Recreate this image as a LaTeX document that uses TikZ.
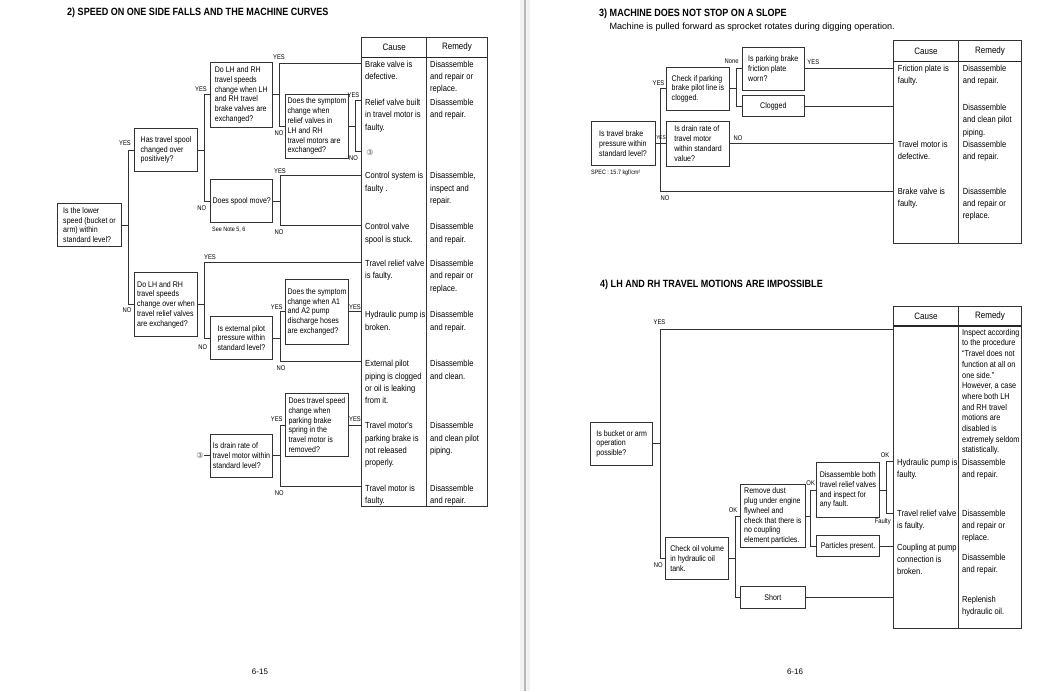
\documentclass[tikz,border=0pt]{standalone}
\usepackage{fontspec}
\setmainfont{Liberation Sans}
\newfontfamily\nfont[FakeStretch=0.86]{Liberation Sans}
\newfontfamily\symfont{DejaVu Sans}
\tikzset{
  qbox/.style={rectangle, draw=black!80, line width=0.9pt, fill=white, align=flush left,
    font=\nfont\fontsize{8.2}{9.8}\selectfont, inner sep=1pt, minimum width=62.6pt},
  cbox/.style={qbox, align=center, minimum height=21pt},
  cell/.style={anchor=base west, align=flush left, inner sep=0pt, text width=75pt,
    font=\nfont\fontsize{8.8}{12.3}\selectfont},
  longcell/.style={cell, font=\nfont\fontsize{8.5}{10.7}\selectfont},
  head/.style={font=\nfont\fontsize{9.3}{11}\selectfont, inner sep=0pt},
  lbl/.style={font=\nfont\fontsize{6.8}{7}\selectfont, inner sep=0.5pt},
  smalltxt/.style={font=\nfont\fontsize{6.3}{7}\selectfont, inner sep=0pt, anchor=west},
  circmark/.style={font=\symfont\fontsize{8}{9}\selectfont, inner sep=0.3pt, text=black!65},
  ttl/.style={anchor=west, inner sep=0pt, font=\nfont\bfseries\fontsize{10.5}{12}\selectfont},
  subttl/.style={anchor=west, inner sep=0pt, font=\fontsize{9.1}{11}\selectfont},
  pgno/.style={inner sep=0pt, font=\fontsize{8}{9}\selectfont},
  link/.style={draw=black!80, line width=0.8pt},
  tbl/.style={draw=black!80, line width=0.9pt},
  hrule/.style={draw=black!85, line width=1.5pt},
}

\begin{document}
\begin{tikzpicture}[x=1pt,y=-1pt]
\useasboundingbox (0,0) rectangle (1054,691);
\fill[white] (0,0) rectangle (1054,691);
% ---- gutter between the pages ----
\fill[black!5] (520,0) rectangle (530,691);
\draw[draw=black!28, line width=2.2pt] (525,0) -- (525,691);

% ---- titles ----
\node[ttl] (t2) at (67,13) {2) SPEED ON ONE SIDE FALLS AND THE MACHINE CURVES};
\node[ttl] (t3) at (599,13.3) {3) MACHINE DOES NOT STOP ON A SLOPE};
\node[subttl] (s3) at (609.3,26.7) {Machine is pulled forward as sprocket rotates during digging operation.};
\node[ttl] (t4) at (600,285) {4) LH AND RH TRAVEL MOTIONS ARE IMPOSSIBLE};
\node[pgno] (pg15) at (260,672) {6-15};
\node[pgno] (pg16) at (795,672) {6-16};

% ================= page 6-15 =================
% ---- cause / remedy table ----
\draw[tbl] (361.7,37.3) rectangle (487.3,506);
\draw[tbl] (426.7,37.3) -- (426.7,506);
\draw[hrule] (361.7,57.3) -- (487.3,57.3);
\node[head] (hc2) at (394.2,47) {Cause};
\node[head] (hr2) at (457,47) {Remedy};
\node[cell] (c1) at (365,67.2) {Brake valve is\\defective.};
\node[cell] (c2) at (365,105.5) {Relief valve built\\in travel motor is\\faulty.};
\node[circmark] (ma2) at (370,152.7) {③};
\node[cell] (c3) at (365,178.9) {Control system is\\faulty .};
\node[cell] (c4) at (365,229.9) {Control valve\\spool is stuck.};
\node[cell] (c5) at (365,266.5) {Travel relief valve\\is faulty.};
\node[cell] (c6) at (365,317.9) {Hydraulic pump is\\broken.};
\node[cell] (c7) at (365,366.9) {External pilot\\piping is clogged\\or oil is leaking\\from it.};
\node[cell] (c8) at (365,428.9) {Travel motor's\\parking brake is\\not released\\properly.};
\node[cell] (c9) at (365,491.2) {Travel motor is\\faulty.};
\node[cell] (m1) at (430,67.2) {Disassemble\\and repair or\\replace.};
\node[cell] (m2) at (430,105.5) {Disassemble\\and repair.};
\node[cell] (m3) at (430,178.9) {Disassemble,\\inspect and\\repair.};
\node[cell] (m4) at (430,229.9) {Disassemble\\and repair.};
\node[cell] (m5) at (430,266.5) {Disassemble\\and repair or\\replace.};
\node[cell] (m6) at (430,317.9) {Disassemble\\and repair.};
\node[cell] (m7) at (430,366.9) {Disassemble\\and clean.};
\node[cell] (m8) at (430,428.9) {Disassemble\\and clean pilot\\piping.};
\node[cell] (m9) at (430,491.2) {Disassemble\\and repair.};
% table entry points
\coordinate (r1) at (361.7,63.3);
\coordinate (r2) at (361.7,100);
\coordinate (r3) at (361.7,151);
\coordinate (r4) at (361.7,175.7);
\coordinate (r5) at (361.7,225.7);
\coordinate (r6) at (361.7,262.3);
\coordinate (r7) at (361.7,311.7);
\coordinate (r8) at (361.7,361.7);
\coordinate (r9) at (361.7,425);
\coordinate (r10) at (361.7,486.7);

% ---- question boxes ----
\node[qbox, minimum width=64.4pt, minimum height=43.4pt] (q1) at (89.5,225) {Is the lower\\speed (bucket or\\arm) within\\standard level?};
\node[qbox, minimum width=63.4pt, minimum height=43.4pt] (q2) at (166,150) {Has travel spool\\changed over\\positively?};
\node[qbox, minimum height=65pt] (q3) at (241.3,94.8) {Do LH and RH\\travel speeds\\change when LH\\and RH travel\\brake valves are\\exchanged?};
\node[qbox, minimum height=64pt] (q4) at (317,126.3) {Does the symptom\\change when\\relief valves in\\LH and RH\\travel motors are\\exchanged?};
\node[qbox, minimum width=62pt, minimum height=43.4pt] (q5) at (241.7,201) {Does spool move?};
\node[smalltxt] (nt5) at (212,230) {See Note 5, 6};
\node[qbox, minimum width=63.4pt, minimum height=64.4pt] (q6) at (166,304.5) {Do LH and RH\\travel speeds\\change over when\\travel relief valves\\are exchanged?};
\node[qbox, minimum height=42.6pt] (q7) at (241.5,338) {Is external pilot\\pressure within\\standard level?};
\node[qbox, minimum height=64.7pt] (q8) at (317,311.7) {Does the symptom\\change when A1\\and A2 pump\\discharge hoses\\are exchanged?};
\node[qbox, minimum height=63.4pt] (q9) at (317,425) {Does travel speed\\change when\\parking brake\\spring in the\\travel motor is\\removed?};
\node[qbox, minimum height=43.3pt] (q10) at (241.5,455.7) {Is drain rate of\\travel motor within\\standard level?};
\node[circmark] (ma1) at (200,455.7) {③};

% ---- junctions ----
\coordinate (j1) at ([xshift=6pt]q1.east);
\coordinate (j2) at ([xshift=6.3pt]q2.east);
\coordinate (j3) at ([xshift=6.8pt]q3.east);
\coordinate (j4) at ([xshift=6.2pt]q4.east);
\coordinate (j5) at ([xshift=6.8pt]q5.east);
\coordinate (j6) at ([xshift=6.3pt]q6.east);
\coordinate (j7) at ([xshift=6.8pt]q7.east);
\coordinate (j8) at ([xshift=6.8pt]q10.east);

% ---- connectors ----
\draw[link] (q1.east) -- (j1);
\draw[link] (j1) |- (q2.west);
\draw[link] (j1) |- (q6.west);
\draw[link] (q2.east) -- (j2);
\draw[link] (j2) |- (q3.west);
\draw[link] (j2) |- (q5.west);
\draw[link] (q3.east) -- (j3);
\draw[link] (j3) |- (r1);
\draw[link] (j3) |- (q4.west);
\draw[link] (q4.east) -- (j4);
\draw[link] (j4) |- (r2);
\draw[link] (j4) |- (r3);
\draw[link] (q5.east) -- (j5);
\draw[link] (j5) |- (r4);
\draw[link] (j5) |- (r5);
\draw[link] (q6.east) -- (j6);
\draw[link] (j6) |- (r6);
\draw[link] (j6) |- (q7.west);
\draw[link] (q7.east) -- (j7);
\draw[link] (j7) |- (q8.west);
\draw[link] (j7) |- (r8);
\draw[link] (q8.east) -- (r7);
\draw[link] (q9.east) -- (r9);
\draw[link] (q10.east) -- (j8);
\draw[link] (j8) |- (q9.west);
\draw[link] (j8) |- (r10);
\draw[link] (ma1.east) -- (q10.west);

% ---- yes / no ----
\node[lbl] (y1) at (125,143.3) {YES};
\node[lbl] (n1) at (127,310.5) {NO};
\node[lbl] (y2) at (201,89.3) {YES};
\node[lbl] (n2) at (201.7,208.3) {NO};
\node[lbl] (y3) at (279,57) {YES};
\node[lbl] (n3) at (279,133) {NO};
\node[lbl] (y4) at (353.5,95.5) {YES};
\node[lbl] (n4) at (353.5,157.7) {NO};
\node[lbl] (y5) at (280,170.7) {YES};
\node[lbl] (n5) at (279,232.3) {NO};
\node[lbl] (y6) at (210,256.7) {YES};
\node[lbl] (n6) at (202.7,346.7) {NO};
\node[lbl] (y7) at (276.7,307) {YES};
\node[lbl] (n7) at (281,367.7) {NO};
\node[lbl] (y8) at (355,306.7) {YES};
\node[lbl] (y9) at (276.7,419) {YES};
\node[lbl] (y10) at (355,419) {YES};
\node[lbl] (n8) at (279.3,493.3) {NO};

% ================= page 6-16 =================
% ---- table of section 3 ----
\draw[tbl] (893.3,40) rectangle (1021,243.3);
\draw[tbl] (958.7,40) -- (958.7,243.3);
\draw[hrule] (893.3,61.7) -- (1021,61.7);
\node[head] (hc3) at (926,51) {Cause};
\node[head] (hr3) at (990,51) {Remedy};
\node[cell] (d1) at (897.7,71.5) {Friction plate is\\faulty.};
\node[cell] (d2) at (897.7,147.2) {Travel motor is\\defective.};
\node[cell] (d3) at (897.7,194.2) {Brake valve is\\faulty.};
\node[cell] (e1) at (962.7,71.5) {Disassemble\\and repair.};
\node[cell] (e2) at (962.7,110.5) {Disassemble\\and clean pilot\\piping.};
\node[cell] (e3) at (962.7,147.2) {Disassemble\\and repair.};
\node[cell] (e4) at (962.7,194.2) {Disassemble\\and repair or\\replace.};
\coordinate (s1) at (893.3,68.8);
\coordinate (s2) at (893.3,106.2);
\coordinate (s3) at (893.3,143.7);
\coordinate (s4) at (893.3,191);

% ---- boxes of section 3 ----
\node[qbox, minimum width=64pt, minimum height=44pt] (p1) at (623,143.7) {Is travel brake\\pressure within\\standard level?};
\node[smalltxt] (spec) at (591,173.3) {SPEC : 15.7 kgf/cm²};
\node[qbox, minimum height=42.3pt] (p2) at (698,88.8) {Check if parking\\brake pilot line is\\clogged.};
\node[qbox, minimum width=62pt, minimum height=42.3pt] (p3) at (773.3,68.8) {Is parking brake\\friction plate\\worn?};
\node[cbox, minimum width=62pt] (p4) at (773.3,106.2) {Clogged};
\node[qbox, minimum height=45pt] (p5) at (698,143.7) {Is drain rate of\\travel motor\\within standard\\value?};
\coordinate (k1) at ([xshift=5pt]p1.east);
\coordinate (k2) at ([xshift=6.4pt]p2.east);
\draw[link] (p1.east) -- (p5.west);
\draw[link] (k1) |- (p2.west);
\draw[link] (k1) |- (s4);
\draw[link] (p2.east) -- (k2);
\draw[link] (k2) |- (p3.west);
\draw[link] (k2) |- (p4.west);
\draw[link] (p3.east) -- (s1);
\draw[link] (p4.east) -- (s2);
\draw[link] (p5.east) -- (s3);
\node[lbl] (y11) at (658.5,83) {YES};
\node[lbl, font=\nfont\fontsize{5.5}{6}\selectfont] (y12) at (661,137.8) {YES};
\node[lbl] (n9) at (738,138) {NO};
\node[lbl] (n10) at (665,198) {NO};
\node[lbl] (o1) at (731.7,61) {None};
\node[lbl] (y13) at (813.3,61.7) {YES};

% ---- table of section 4 ----
\draw[tbl] (893.3,306) rectangle (1021,628);
\draw[tbl] (958.7,306) -- (958.7,628);
\draw[hrule] (893.3,326) -- (1021,326);
\node[head] (hc4) at (926,316.5) {Cause};
\node[head] (hr4) at (990,316.5) {Remedy};
\node[longcell] (g1) at (962,335.2) {Inspect according\\to the procedure\\“Travel does not\\function at all on\\one side.”\\However, a case\\where both LH\\and RH travel\\motions are\\disabled is\\extremely seldom\\statistically.};
\node[cell] (f1) at (897,465.2) {Hydraulic pump is\\faulty.};
\node[cell] (f2) at (897,516.2) {Travel relief valve\\is faulty.};
\node[cell] (f3) at (897,550.2) {Coupling at pump\\connection is\\broken.};
\node[cell] (g2) at (962,465.2) {Disassemble\\and repair.};
\node[cell] (g3) at (962,516.2) {Disassemble\\and repair or\\replace.};
\node[cell] (g4) at (962,560.2) {Disassemble\\and repair.};
\node[cell] (g5) at (962,602.2) {Replenish\\hydraulic oil.};
\coordinate (u1) at (893.3,329);
\coordinate (u2) at (893.3,461);
\coordinate (u3) at (893.3,513.3);
\coordinate (u4) at (893.3,546.2);
\coordinate (u5) at (893.3,597.5);

% ---- boxes of section 4 ----
\node[qbox, minimum width=62pt, minimum height=42.7pt] (b1) at (621.7,443.7) {Is bucket or arm\\operation\\possible?};
\node[qbox, minimum width=63pt, minimum height=42pt] (b2) at (697.2,558.3) {Check oil volume\\in hydraulic oil\\tank.};
\node[qbox, minimum width=64.3pt, minimum height=63.4pt] (b3) at (772.8,516) {Remove dust\\plug under engine\\flywheel and\\check that there is\\no coupling\\element particles.};
\node[cbox, minimum width=64.3pt, minimum height=21.6pt] (b4) at (772.8,597.5) {Short};
\node[qbox, minimum height=54.6pt] (b5) at (848,490) {Disassemble both\\travel relief valves\\and inspect for\\any fault.};
\node[cbox] (b6) at (848,546.2) {Particles present.};
\coordinate (k3) at ([xshift=6.8pt]b1.east);
\coordinate (k4) at ([xshift=6.3pt]b2.east);
\coordinate (k5) at ([xshift=5pt]b3.east);
\coordinate (k6) at ([xshift=6.4pt]b5.east);
\draw[link] (b1.east) -- (k3);
\draw[link] (k3) |- (u1);
\draw[link] (k3) |- (b2.west);
\draw[link] (b2.east) -- (k4);
\draw[link] (k4) |- (b3.west);
\draw[link] (k4) |- (b4.west);
\draw[link] (b3.east) -- (k5);
\draw[link] (k5) |- (b5.west);
\draw[link] (k5) |- (b6.west);
\draw[link] (b5.east) -- (k6);
\draw[link] (k6) |- (u2);
\draw[link] (k6) |- (u3);
\draw[link] (b6.east) -- (u4);
\draw[link] (b4.east) -- (u5);
\node[lbl] (y14) at (659.5,322.3) {YES};
\node[lbl] (n11) at (658.3,565) {NO};
\node[lbl] (o2) at (733,510.5) {OK};
\node[lbl] (o3) at (810.7,483) {OK};
\node[lbl] (o4) at (885,455.5) {OK};
\node[lbl] (fy) at (882.7,521.7) {Faulty};
\end{tikzpicture}
\end{document}
